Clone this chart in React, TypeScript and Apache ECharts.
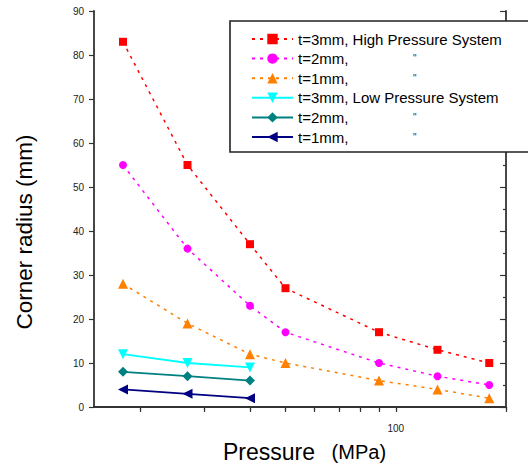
import React, { useEffect, useRef } from "react";
import * as echarts from "echarts";

const pressureHigh = [18, 27, 40, 50, 90, 130, 180];
const pressureLow = [18, 27, 40];
const high3 = [83, 55, 37, 27, 17, 13, 10];
const high2 = [55, 36, 23, 17, 10, 7, 5];
const high1 = [28, 19, 12, 10, 6, 4, 2];
const low3 = [12, 10, 9];
const low2 = [8, 7, 6];
const low1 = [4, 3, 2];
const xTickValues = [20, 30, 40, 50, 60, 70, 80, 90, 100, 200];
const xLabelValues = [100];
const seriesNames = ["HP t=3mm", "HP t=2mm", "HP t=1mm", "LP t=3mm", "LP t=2mm", "LP t=1mm"];
const legendLabels: Record<string, string> = {
  "HP t=3mm": "t=3mm, High Pressure System",
  "HP t=2mm": "{n|t=2mm,}{q|\"}",
  "HP t=1mm": "{n|t=1mm,}{q|\"}",
  "LP t=3mm": "t=3mm, Low Pressure System",
  "LP t=2mm": "{n|t=2mm,}{q|\"}",
  "LP t=1mm": "{n|t=1mm,}{q|\"}",
};
const colors = ["#ff0000", "#ff00ff", "#ff8000", "#00ffff", "#008080", "#000080"];

const FONT = "Liberation Sans, Arial, sans-serif";

function pairs(xs: number[], ys: number[]) {
  return xs.map((x, i) => [x, ys[i]]);
}

export default function App() {
  const ref = useRef<HTMLDivElement>(null);
  useEffect(() => {
    if (!ref.current) return;
    const chart = echarts.init(ref.current, null, { renderer: "svg" });
    const dashed = { width: 1.5, type: [3, 5] as number[] };
    const solid = { width: 1.8, type: "solid" as const };
    const mk = (i: number, xs: number[], ys: number[], symbol: string, size: number, ls: any, rotate = 0) => ({
      name: seriesNames[i],
      type: "line",
      data: pairs(xs, ys),
      symbol,
      symbolSize: size,
      symbolRotate: rotate,
      showSymbol: true,
      color: colors[i],
      itemStyle: { color: colors[i] },
      lineStyle: { color: colors[i], ...ls },
      z: 2,
    });
    const axisLineStyle = { color: "#333", width: 1.8 };
    chart.setOption({
      animation: false,
      backgroundColor: "#fff",
      grid: { left: 94, right: 22, top: 11, bottom: 57, containLabel: false, outerBoundsMode: "none" },
      xAxis: [
        {
          type: "log",
          logBase: 10,
          min: 15,
          max: 200,
          position: "bottom",
          axisLine: { show: true, lineStyle: axisLineStyle },
          axisTick: { show: true, inside: false, length: 5, customValues: xTickValues, lineStyle: { color: "#333", width: 1.2 } },
          axisLabel: { show: true, customValues: xLabelValues, fontSize: 10, color: "#222", fontFamily: FONT, margin: 16 },
          splitLine: { show: false },
          minorTick: { show: false },
          name: "{a|Pressure}{b|   (MPa)}",
          nameLocation: "middle",
          nameGap: 33,
          nameTextStyle: {
            padding: [0, 0, 0, 9],
            rich: {
              a: { fontSize: 23, fontFamily: FONT, color: "#000" },
              b: { fontSize: 20, fontFamily: FONT, color: "#000" },
            },
          },
        },
        {
          type: "log",
          logBase: 10,
          min: 15,
          max: 200,
          position: "top",
          axisLine: { show: true, lineStyle: axisLineStyle },
          axisTick: { show: true, inside: true, length: 3, customValues: xTickValues, lineStyle: { color: "#333", width: 1.2 } },
          axisLabel: { show: false },
          splitLine: { show: false },
        },
      ],
      yAxis: [
        {
          type: "value",
          min: 0,
          max: 90,
          interval: 10,
          position: "left",
          axisLine: { show: true, lineStyle: axisLineStyle },
          axisTick: { show: true, inside: false, length: 5, lineStyle: { color: "#333", width: 1.2 } },
          axisLabel: { fontSize: 10, color: "#222", fontFamily: FONT, margin: 10 },
          splitLine: { show: false },
          name: "Corner radius (mm)",
          nameLocation: "middle",
          nameRotate: 90,
          nameGap: 58,
          nameTextStyle: { fontSize: 22.5, fontFamily: FONT, color: "#000", padding: [0, 46, 0, 0] },
        },
        {
          type: "value",
          min: 0,
          max: 90,
          interval: 10,
          position: "right",
          axisLine: { show: true, lineStyle: axisLineStyle },
          axisTick: { show: true, inside: true, length: 6, lineStyle: { color: "#333", width: 1.2 } },
          minorTick: { show: true, splitNumber: 2, length: 3, lineStyle: { color: "#333", width: 1.2 } },
          axisLabel: { show: false },
          splitLine: { show: false },
        },
      ],
      legend: {
        show: true,
        orient: "vertical",
        left: 251,
        top: 31,
        padding: 0,
        itemGap: 3.6,
        itemWidth: 41,
        itemHeight: 13,
        z: 5,
        data: seriesNames,
        formatter: (name: string) => legendLabels[name],
        textStyle: {
          fontFamily: FONT,
          fontSize: 15,
          color: "#000",
          lineHeight: 16,
          rich: {
            n: { fontFamily: FONT, fontSize: 15, color: "#000", width: 115, lineHeight: 16 },
            q: { fontFamily: FONT, fontSize: 10, color: "#333", lineHeight: 16 },
          },
        },
      },
      graphic: [
        {
          type: "rect",
          x: 230,
          y: 21,
          z: 3,
          shape: { width: 320, height: 131 },
          style: { fill: "#fff", stroke: "#222", lineWidth: 1.6 },
        },
      ],
      series: [
        mk(0, pressureHigh, high3, "rect", 8, dashed),
        mk(1, pressureHigh, high2, "circle", 8, dashed),
        mk(2, pressureHigh, high1, "triangle", 10, dashed),
        mk(3, pressureLow, low3, "triangle", 10, solid, 180),
        mk(4, pressureLow, low2, "diamond", 10, solid),
        mk(5, pressureLow, low1, "triangle", 10, solid, 90),
      ],
    });
    return () => chart.dispose();
  }, []);
  return <div ref={ref} style={{ width: 528, height: 464, position: "absolute", left: 0, top: 0 }} />;
}
